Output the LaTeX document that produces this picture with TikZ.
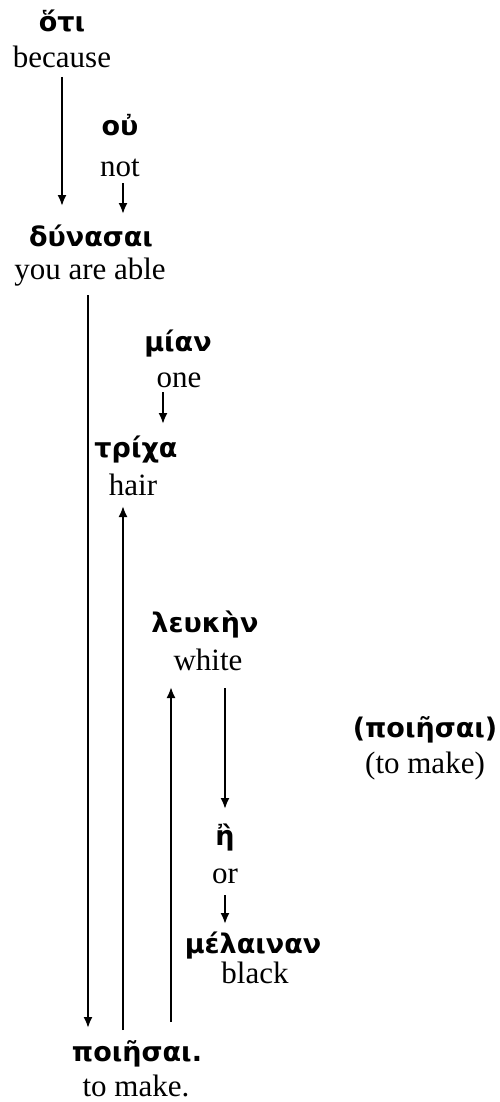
\documentclass[tikz,border=0pt]{standalone}
\usepackage{fontspec}
\setmainfont{Liberation Serif}
\newfontfamily\grk{DejaVu Sans}
\usetikzlibrary{arrows.meta}
\tikzset{
 gk/.style={anchor=base, inner sep=0pt, font=\grk\bfseries\fontsize{13.5}{15}\selectfont},
 en/.style={anchor=base, inner sep=0pt, font=\fontsize{15.5}{18}\selectfont},
 arr/.style={line width=1pt, -{Latex[length=5.5pt,width=4.5pt]}},
}
\begin{document}
\begin{tikzpicture}[x=0.5pt,y=-0.5pt]
\useasboundingbox (0,0) rectangle (499,1102);
% words
\node[gk] (oti) at (62,32) {ὅτι};
\node[en] (otiE) at (62,68) {because};
\node[gk] (ou) at (120,135) {οὐ};
\node[en] (ouE) at (120,176) {not};
\node[gk] (dun) at (91,246) {δύνασαι};
\node[en] (dunE) at (90,279) {you are able};
\node[gk] (mian) at (178,351) {μίαν};
\node[en] (mianE) at (179,387) {one};
\node[gk] (trix) at (136,457) {τρίχα};
\node[en] (trixE) at (133,495) {hair};
\node[gk] (leuk) at (205,632) {λευκὴν};
\node[en] (leukE) at (208,670) {white};
\node[gk] (poi2) at (425,737) {(ποιῆσαι)};
\node[en] (poi2E) at (425,773) {(to make)};
\node[gk] (e) at (225,845) {ἢ};
\node[en] (eE) at (225,883) {or};
\node[gk] (mel) at (253,953) {μέλαιναν};
\node[en] (melE) at (255,983) {black};
\node[gk] (poi) at (137,1061) {ποιῆσαι.};
\node[en] (poiE) at (136,1096) {to make.};
% arrow end points
\coordinate (a1s) at (62,77);   \coordinate (a1e) at (62,206);
\coordinate (a2s) at (123,183); \coordinate (a2e) at (123,214);
\coordinate (a3s) at (88,295);  \coordinate (a3e) at (88,1028);
\coordinate (a4s) at (163,392); \coordinate (a4e) at (163,424);
\coordinate (a5s) at (123,1030);\coordinate (a5e) at (123,506);
\coordinate (a6s) at (171,1022);\coordinate (a6e) at (171,687);
\coordinate (a7s) at (225,688); \coordinate (a7e) at (225,809);
\coordinate (a8s) at (225,895); \coordinate (a8e) at (225,924);
\draw[arr] (a1s) -- (a1e);
\draw[arr] (a2s) -- (a2e);
\draw[arr] (a3s) -- (a3e);
\draw[arr] (a4s) -- (a4e);
\draw[arr] (a5s) -- (a5e);
\draw[arr] (a6s) -- (a6e);
\draw[arr] (a7s) -- (a7e);
\draw[arr] (a8s) -- (a8e);
\end{tikzpicture}
\end{document}
